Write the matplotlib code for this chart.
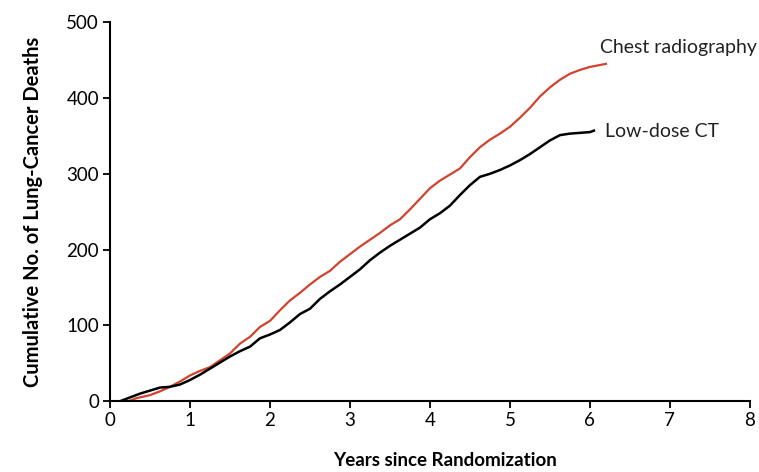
import numpy as np
import matplotlib.pyplot as plt

# Chest radiography
years_cxr = [0.23, 0.33, 0.5, 0.625, 0.75, 0.875, 1.0, 1.125, 1.25, 1.375, 1.5, 1.625,
             1.75, 1.875, 2.0, 2.125, 2.25, 2.375, 2.5, 2.625, 2.75, 2.875, 3.0, 3.125,
             3.25, 3.375, 3.5, 3.625, 3.75, 3.875, 4.0, 4.125, 4.25, 4.375, 4.5, 4.625,
             4.75, 4.875, 5.0, 5.125, 5.25, 5.375, 5.5, 5.625, 5.75, 5.875, 6.0, 6.1, 6.2]
deaths_cxr = [0, 4, 8, 13, 19, 26, 34, 40, 45, 54, 63, 76,
              85, 98, 106, 120, 133, 143, 154, 164, 172, 184, 194, 204,
              213, 222, 232, 240, 253, 267, 281, 291, 299, 307, 322, 335,
              345, 353, 362, 374, 387, 402, 414, 424, 432, 437, 441, 443, 445]

# Low-dose CT
years_ct = [0.125, 0.25, 0.375, 0.5, 0.625, 0.75, 0.875, 1.0, 1.125, 1.25, 1.375, 1.5,
            1.625, 1.75, 1.875, 2.0, 2.125, 2.25, 2.375, 2.5, 2.625, 2.75, 2.875, 3.0,
            3.125, 3.25, 3.375, 3.5, 3.625, 3.75, 3.875, 4.0, 4.125, 4.25, 4.375, 4.5,
            4.625, 4.75, 4.875, 5.0, 5.125, 5.25, 5.375, 5.5, 5.625, 5.75, 5.875, 6.0, 6.05]
deaths_ct = [0, 5, 10, 14, 18, 19, 22, 28, 35, 43, 51, 59,
             66, 72, 83, 88, 94, 104, 115, 122, 135, 145, 154, 164,
             174, 186, 196, 205, 213, 221, 229, 240, 248, 258, 272, 285,
             296, 300, 305, 311, 318, 326, 335, 344, 351, 353, 354, 355, 357]

plt.rcParams['font.family'] = ['Lato', 'DejaVu Sans']

fig = plt.figure(figsize=(7.59, 4.72), dpi=100)
ax = fig.add_axes([0.145, 0.150, 0.843, 0.803])

ax.plot(years_cxr, deaths_cxr, color='#d0432f', lw=1.6)
ax.plot(years_ct, deaths_ct, color='black', lw=1.8)

ax.text(6.12, 466, 'Chest radiography', fontsize=14, va='center', ha='left', color='#222222')
ax.text(6.19, 356, 'Low-dose CT', fontsize=14, va='center', ha='left', color='#222222')

ax.set_xlim(0, 8)
ax.set_ylim(0, 500)
ax.set_xticks(np.arange(0, 9, 1))
ax.set_yticks(np.arange(0, 501, 100))
ax.spines['top'].set_visible(False)
ax.spines['right'].set_visible(False)
ax.spines['left'].set_linewidth(1.5)
ax.spines['bottom'].set_linewidth(1.5)
ax.tick_params(direction='out', length=5, width=1.3, labelsize=13.5, pad=3)
ax.set_xlabel('Years since Randomization', fontsize=13.5, fontweight='bold', labelpad=18)
ax.xaxis.set_label_coords(0.524, -0.135)
ax.set_ylabel('Cumulative No. of Lung-Cancer Deaths', fontsize=14.5, fontweight='bold', labelpad=17)

fig.savefig('out.png', dpi=100)
